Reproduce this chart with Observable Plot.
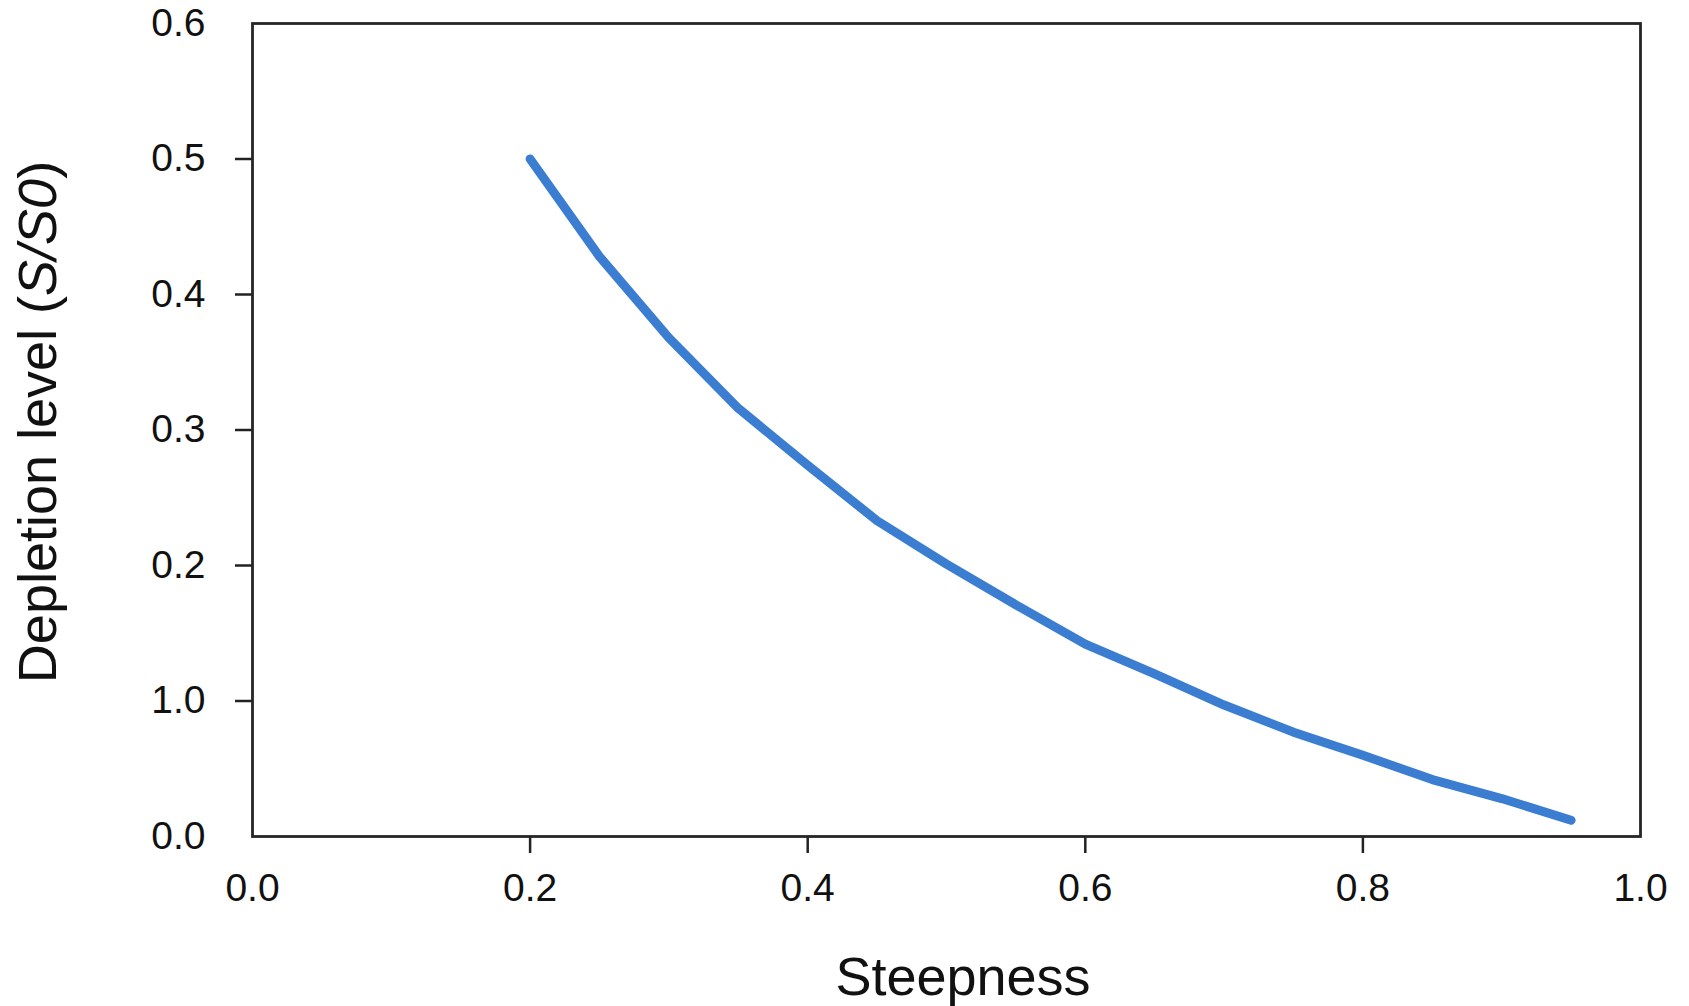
<!DOCTYPE html>
<html><head><meta charset="utf-8">
<script src="https://cdn.jsdelivr.net/npm/d3@7"></script>
<script src="https://cdn.jsdelivr.net/npm/@observablehq/plot@0.6"></script>
<style>
html,body{margin:0;padding:0;background:#fff;}
#chart svg{display:block;}
</style>
</head><body><div id="chart"></div>
<script>
// Data
const steepness = [0.20, 0.25, 0.30, 0.35, 0.40, 0.45, 0.50, 0.55, 0.60, 0.65, 0.70, 0.75, 0.80, 0.85, 0.90, 0.95];
const depletion = [0.500, 0.428, 0.368, 0.316, 0.274, 0.233, 0.201, 0.171, 0.142, 0.120, 0.097, 0.077, 0.060, 0.042, 0.028, 0.012];

const xTicks = [0, 0.2, 0.4, 0.6, 0.8, 1.0];
const xTickLabels = ["0.0", "0.2", "0.4", "0.6", "0.8", "1.0"];
const xTickMarks = [0.2, 0.4, 0.6, 0.8];
const yTicks = [0, 0.1, 0.2, 0.3, 0.4, 0.5, 0.6];
const yTickLabels = ["0.0", "1.0", "0.2", "0.3", "0.4", "0.5", "0.6"];
const yTickMarks = [0.1, 0.2, 0.3, 0.4, 0.5];

const xTitle = "Steepness";
const yTitleMain = "Depletion level (";
const yTitleItalic = "S/S0";
const yTitleEnd = ")";

const data = steepness.map((s, i) => ({steepness: s, depletion: depletion[i]}));

const W = 1689, H = 1006;
const font = "'Liberation Sans', Arial, Helvetica, sans-serif";

const chart = Plot.plot({
  width: W,
  height: H,
  marginLeft: 252,
  marginRight: 49,
  marginTop: 23,
  marginBottom: 170,
  style: {fontFamily: font, fontSize: "39px", color: "#111", background: "#fff"},
  x: {domain: [0, 1]},
  y: {domain: [0, 0.6]},
  marks: [
    Plot.axisX(xTicks, {tickSize: 0, tickPadding: 37, fontSize: 39, label: null,
      tickFormat: (d) => xTickLabels[xTicks.indexOf(d)]}),
    Plot.axisX(xTickMarks, {tickSize: 17, strokeWidth: 2.5, stroke: "#222", text: null, label: null}),
    Plot.axisY(yTicks, {tickSize: 0, tickPadding: 47, fontSize: 39, label: null,
      tickFormat: (d) => yTickLabels[yTicks.indexOf(d)]}),
    Plot.axisY(yTickMarks, {tickSize: 17, strokeWidth: 2.5, stroke: "#222", text: null, label: null}),
    Plot.line(data, {x: "steepness", y: "depletion", stroke: "#3b7dd1", strokeWidth: 9,
      strokeLinecap: "round", strokeLinejoin: "round"}),
    Plot.frame({stroke: "#262626", strokeWidth: 2.8})
  ]
});

document.getElementById("chart").appendChild(chart);

const svg = d3.select(chart);
// x axis title
svg.append("text")
  .attr("x", 963)
  .attr("y", 995)
  .attr("text-anchor", "middle")
  .attr("font-family", font)
  .attr("font-size", 54)
  .attr("fill", "#111")
  .text(xTitle);
// y axis title
const yt = svg.append("text")
  .attr("transform", `translate(56, 422) rotate(-90)`)
  .attr("text-anchor", "middle")
  .attr("font-family", font)
  .attr("font-size", 54)
  .attr("fill", "#111");
yt.append("tspan").text(yTitleMain);
yt.append("tspan").attr("font-style", "italic").text(yTitleItalic);
yt.append("tspan").text(yTitleEnd);
</script>
</body></html>
